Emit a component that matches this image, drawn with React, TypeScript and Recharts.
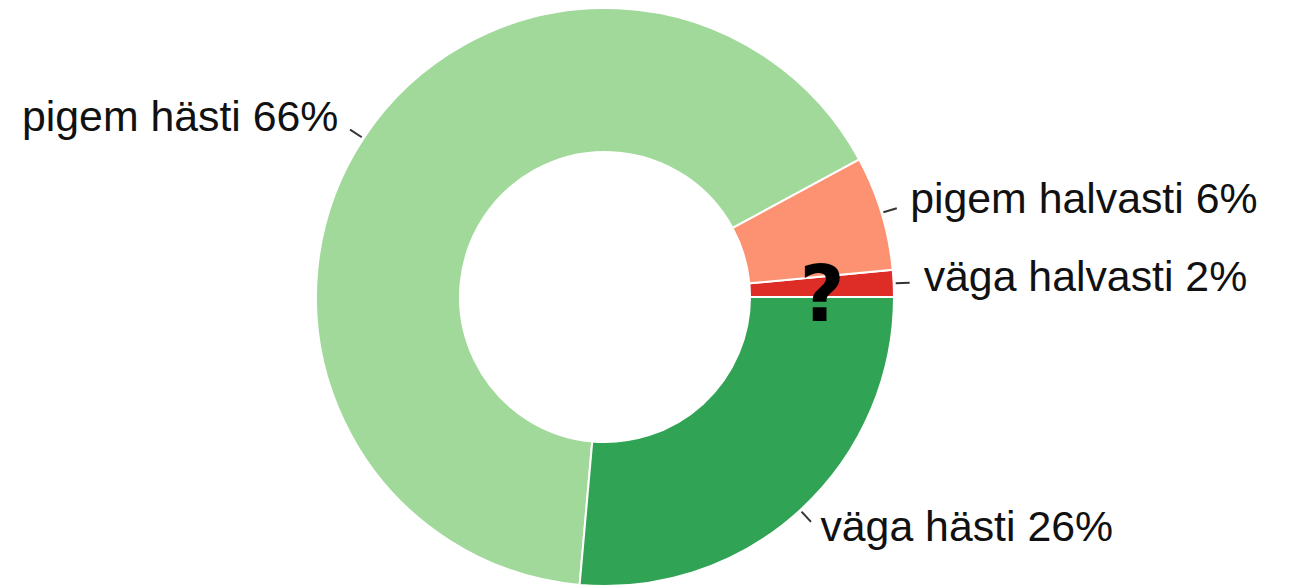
import React from "react";
import { PieChart, Pie, Cell } from "recharts";

// counter-clockwise from 3 o'clock
const categories = ["väga halvasti", "pigem halvasti", "pigem hästi", "väga hästi"];
const shares = [1.5, 6.4, 65.7, 26.4];
const shownPct = ["2%", "6%", "66%", "26%"];
const colors = ["#de2d26", "#fc9272", "#a1d99b", "#31a354"];

const data = categories.map((name, i) => ({
  name,
  value: shares[i],
  label: `${name} ${shownPct[i]}`,
}));

const RADIAN = Math.PI / 180;

function renderLabel(props: any) {
  const { cx, cy, midAngle, outerRadius, payload } = props;
  const c = Math.cos(-midAngle * RADIAN);
  const s = Math.sin(-midAngle * RADIAN);
  const x1 = cx + (outerRadius + 2) * c;
  const y1 = cy + (outerRadius + 2) * s;
  const x2 = cx + (outerRadius + 16) * c;
  const y2 = cy + (outerRadius + 16) * s;
  const tx = cx + (outerRadius + 30) * c;
  const ty = cy + (outerRadius + 30) * s;
  return (
    <g>
      <line x1={x1} y1={y1} x2={x2} y2={y2} stroke="#333" strokeWidth={2} />
      <text
        x={tx}
        y={ty + 9}
        textAnchor={c < 0 ? "end" : "start"}
        fill="#111"
        fontSize={42.8}
        fontFamily="'Liberation Sans', Arial, sans-serif"
      >
        {payload.label}
      </text>
    </g>
  );
}

export default function App() {
  return (
    <div style={{ position: "absolute", left: 0, top: 0, width: 1291, height: 588, background: "#fff" }}>
      <PieChart width={1291} height={588} margin={{ top: 0, right: 0, bottom: 0, left: 0 }}>
        <Pie
          data={data}
          dataKey="value"
          nameKey="name"
          cx={605}
          cy={297}
          innerRadius={145}
          outerRadius={289}
          startAngle={0}
          endAngle={360}
          stroke="#fff"
          strokeWidth={2}
          label={renderLabel}
          labelLine={false}
          isAnimationActive={false}
        >
          {data.map((d, i) => (
            <Cell key={d.name} fill={colors[i]} />
          ))}
        </Pie>
      </PieChart>
      <svg width={1291} height={588} style={{ position: "absolute", left: 0, top: 0, pointerEvents: "none" }}>
        <text
          x={822}
          y={321}
          textAnchor="middle"
          fontSize={78}
          fontWeight="bold"
          fontFamily="'DejaVu Sans', sans-serif"
          fill="#000"
        >
          ?
        </text>
      </svg>
    </div>
  );
}
